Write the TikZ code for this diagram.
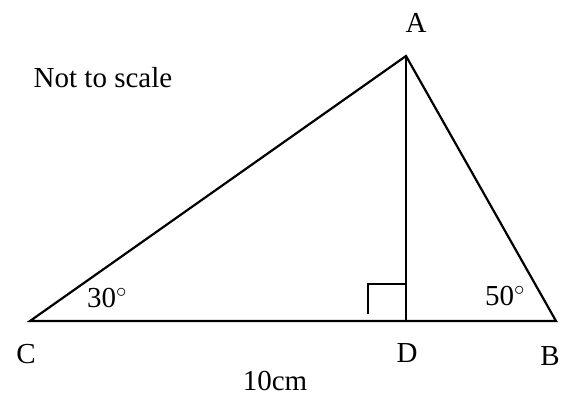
\documentclass[tikz,border=0pt]{standalone}
\usepackage{fontspec}
\setmainfont{Liberation Serif}
\begin{document}
\begin{tikzpicture}[x=1pt,y=-1pt,
  edge/.style={line width=2.2pt,line join=miter},
  lbl/.style={inner sep=0pt,anchor=base,font=\fontsize{29}{34}\selectfont}]
\useasboundingbox (0,0) rectangle (577,399);
\coordinate (A) at (406,56);
\coordinate (B) at (556,321);
\coordinate (C) at (30,321);
\coordinate (D) at (406,321);
\draw[edge] (C) -- (B) -- (A) -- cycle;
\draw[edge] (A) -- (D);
\draw[edge] (368,314) -- (368,284) -- (406,284);
\node[lbl] (la) at (416,32) {A};
\node[lbl] (lc) at (26,363) {C};
\node[lbl] (ld) at (407,362) {D};
\node[lbl] (lb) at (550,365) {B};
\node[lbl] (l10) at (275,390) {10cm};
\node[lbl] (nts) at (103,87) {Not to scale};
\node[lbl] (a30) at (107,307) {30$^{\circ}$};
\node[lbl] (a50) at (505,305) {50$^{\circ}$};
\end{tikzpicture}
\end{document}
